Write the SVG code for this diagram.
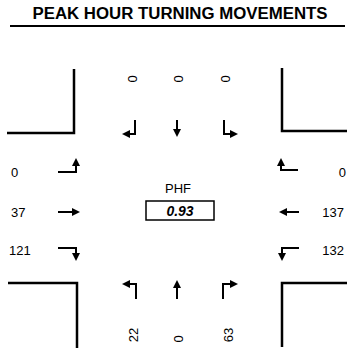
<svg xmlns="http://www.w3.org/2000/svg" width="347" height="354" viewBox="0 0 347 354">
<defs>
<style>
.t{font-family:"Liberation Sans",Arial,sans-serif;fill:#000}
.n{font-size:13px}
.c{fill:none;stroke:#000;stroke-width:2.5}
.a{fill:none;stroke:#000;stroke-width:2}
</style>
<marker id="ah" viewBox="0 0 8 8" refX="6" refY="4" markerWidth="8" markerHeight="8" markerUnits="userSpaceOnUse" orient="auto">
<path d="M0,0 L8,4 L0,8 z" fill="#000"/>
</marker>
</defs>
<rect width="347" height="354" fill="#fff"/>
<g id="title">
<text class="t" x="180" y="19" font-size="16" font-weight="bold" text-anchor="middle" textLength="295" lengthAdjust="spacingAndGlyphs">PEAK HOUR TURNING MOVEMENTS</text>
<line x1="10" y1="26" x2="345" y2="26" stroke="#000" stroke-width="2"/>
</g>
<g id="corners">
<path class="c" d="M7,133 H74 V69"/>
<path class="c" d="M282,68 V131 H347"/>
<path class="c" d="M8,283 H77 V348"/>
<path class="c" d="M347,283 H282 V347"/>
</g>
<g id="connectors">
<path class="a" d="M135,120 V134 H124" marker-end="url(#ah)"/>
<path class="a" d="M177,120 V135" marker-end="url(#ah)"/>
<path class="a" d="M224,120 V134 H236" marker-end="url(#ah)"/>
<path class="a" d="M58,172 H76 V160" marker-end="url(#ah)"/>
<path class="a" d="M58,212 H78" marker-end="url(#ah)"/>
<path class="a" d="M58,248 H76 V259" marker-end="url(#ah)"/>
<path class="a" d="M298,170 H281 V160" marker-end="url(#ah)"/>
<path class="a" d="M299,212 H281" marker-end="url(#ah)"/>
<path class="a" d="M299,248 H282 V259" marker-end="url(#ah)"/>
<path class="a" d="M136,299 V284 H124" marker-end="url(#ah)"/>
<path class="a" d="M177,299 V282" marker-end="url(#ah)"/>
<path class="a" d="M223,299 V284 H236" marker-end="url(#ah)"/>
</g>
<g id="north">
<text class="t n" transform="translate(136.5,79) rotate(-90)" text-anchor="middle">0</text>
<text class="t n" transform="translate(182.5,79) rotate(-90)" text-anchor="middle">0</text>
<text class="t n" transform="translate(229.5,79) rotate(-90)" text-anchor="middle">0</text>
</g>
<g id="west">
<text class="t n" x="11" y="177">0</text>
<text class="t n" x="11" y="217">37</text>
<text class="t n" x="9" y="255">121</text>
</g>
<g id="east">
<text class="t n" x="346" y="177" text-anchor="end">0</text>
<text class="t n" x="344" y="217" text-anchor="end">137</text>
<text class="t n" x="344" y="255" text-anchor="end">132</text>
</g>
<g id="south">
<text class="t n" transform="translate(137.5,335) rotate(-90)" text-anchor="middle">22</text>
<text class="t n" transform="translate(182.5,339) rotate(-90)" text-anchor="middle">0</text>
<text class="t n" transform="translate(232.5,335) rotate(-90)" text-anchor="middle">63</text>
</g>
<g id="phf">
<text class="t" x="178" y="193" font-size="13" text-anchor="middle">PHF</text>
<rect x="146" y="201" width="68" height="19" fill="none" stroke="#000" stroke-width="1.5"/>
<text class="t" x="180" y="215.5" font-size="14" font-weight="bold" font-style="italic" text-anchor="middle">0.93</text>
</g>
</svg>
